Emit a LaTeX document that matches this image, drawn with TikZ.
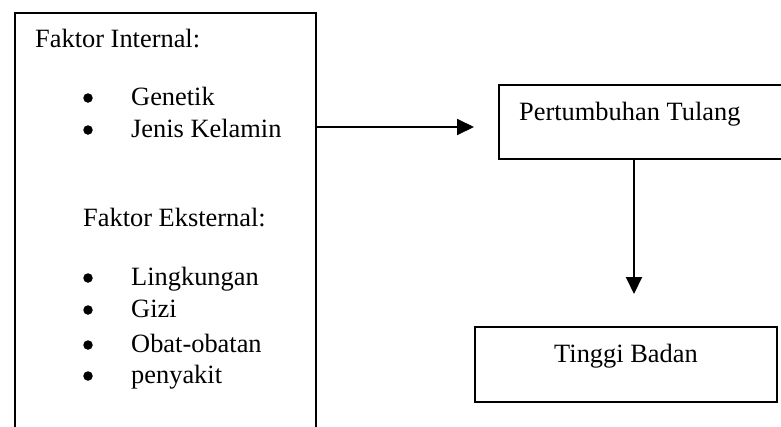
\documentclass[tikz,border=0pt]{standalone}
\usepackage{fontspec}
\setmainfont{Liberation Serif}
\usetikzlibrary{arrows.meta}
\tikzset{
  boxline/.style={draw,line width=2pt,anchor=north west,inner sep=0pt},
  txt/.style={anchor=base west,inner sep=0pt,font=\fontsize{26.4}{30}\selectfont},
  bul/.style={circle,fill,inner sep=0pt,minimum size=9.5pt},
  flow/.style={line width=2pt,-{Triangle[length=17pt,width=16pt]}}
}

\begin{document}
\begin{tikzpicture}[x=1pt,y=-1pt]
\clip (0,0) rectangle (781,426);

\node[boxline,minimum width=301pt,minimum height=440pt] (faktor) at (14,12) {};
\node[boxline,minimum width=302pt,minimum height=74pt] (tulang) at (498,84) {};
\node[boxline,minimum width=302pt,minimum height=75pt] (tinggi) at (474,326) {};

\node[txt] (internal) at (35,47) {Faktor Internal:};
\node[bul] (b1) at (88,98) {};
\node[txt] (genetik) at (131,105) {Genetik};
\node[bul] (b2) at (88,130) {};
\node[txt] (kelamin) at (131,137) {Jenis Kelamin};

\node[txt] (eksternal) at (83,226) {Faktor Eksternal:};
\node[bul] (b3) at (88,278) {};
\node[txt] (lingkungan) at (131,285) {Lingkungan};
\node[bul] (b4) at (88,310) {};
\node[txt] (gizi) at (131,317) {Gizi};
\node[bul] (b5) at (88,345) {};
\node[txt] (obat) at (131,352) {Obat-obatan};
\node[bul] (b6) at (88,376) {};
\node[txt] (penyakit) at (131,383) {penyakit};

\node[txt] (tulangtxt) at (519,120) {Pertumbuhan Tulang};
\node[txt] (tinggitxt) at (554,362) {Tinggi Badan};

\coordinate (tip1) at (474,127);
\coordinate (tip2) at (634,294);
\draw[flow] (faktor.east |- tip1) -- (tip1);
\draw[flow] (tulang.south -| tip2) -- (tip2);
\end{tikzpicture}
\end{document}
